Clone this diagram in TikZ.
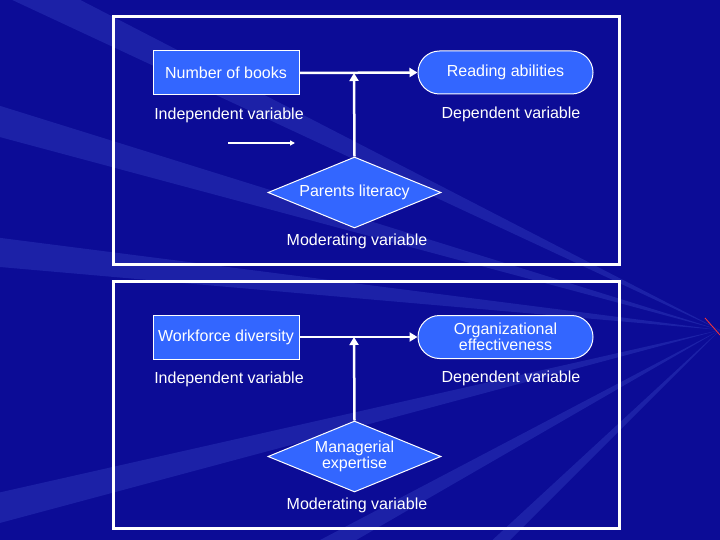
\documentclass[tikz,border=0pt]{standalone}
\usepackage{fontspec}
\setmainfont{Liberation Sans}
\usetikzlibrary{shapes.geometric,shapes.misc,arrows.meta}
\definecolor{bg}{RGB}{12,12,150}
\definecolor{ray}{RGB}{45,55,185}
\definecolor{shp}{RGB}{51,102,255}
\begin{document}
\begin{tikzpicture}[x=1pt,y=-1pt,
  every node/.style={text=white,font=\fontsize{16}{17}\selectfont},
  box/.style={draw=white,line width=1pt,fill=shp,minimum width=146pt,minimum height=44pt,inner sep=1pt},
  stad/.style={draw=white,line width=1pt,fill=shp,rounded rectangle,minimum width=177pt,minimum height=43pt,align=center,inner sep=1pt},
  dia/.style={draw=white,line width=1pt,fill=shp,diamond,aspect=2.44,minimum width=173pt,minimum height=71pt,align=center,inner sep=0pt},
  frame/.style={draw=white,line width=3pt},
  arr/.style={draw=white,line width=2.5pt,-{Triangle[length=8pt,width=9pt]}}]
\useasboundingbox (0,0) rectangle (720,540);
\fill[bg] (0,0) rectangle (720,540);
\begin{scope}
\clip (0,0) rectangle (720,540);
\foreach \a in {-155,-165,-175,165,150,135}{
  \fill[ray,opacity=0.5] (720,330) -- ++(\a:1000) -- ++(\a+90:40) -- cycle;}
\end{scope}
\draw[red!80!white,line width=0.8pt] (705,318) -- (720,335);
% top
\draw[frame] (113,17) rectangle (619,264);
\node[box] (nb) at (226,73) {Number of books};
\node[stad] (ra) at (505.5,72.5) {Reading abilities};
\node[dia] (pl) at (354.5,192.5) {Parents literacy};
\coordinate (m1) at (354,73);
\draw[arr] (nb.east) -- (ra.west);
\draw[arr] (pl.north) -- (m1);
\node (iv1) at (229,115) {Independent variable};
\node (dv1) at (511,114) {Dependent variable};
\node (mv1) at (357,241) {Moderating variable};
\coordinate (s1) at (228,143); \coordinate (s2) at (295,143);
\draw[white,line width=2.5pt,-{Triangle[length=5pt,width=5pt]}] (s1) -- (s2);
% bottom
\draw[frame] (113,281) rectangle (619,528);
\node[box] (wd) at (226,337) {Workforce diversity};
\node[stad] (oe) at (505.5,337) {Organizational\\[-1pt]effectiveness};
\node[dia] (me) at (354.5,456.5) {Managerial\\[-1pt]expertise};
\coordinate (m2) at (354,337);
\draw[arr] (wd.east) -- (oe.west);
\draw[arr] (me.north) -- (m2);
\node (iv2) at (229,379) {Independent variable};
\node (dv2) at (511,378) {Dependent variable};
\node (mv2) at (357,505) {Moderating variable};
\end{tikzpicture}
\end{document}
